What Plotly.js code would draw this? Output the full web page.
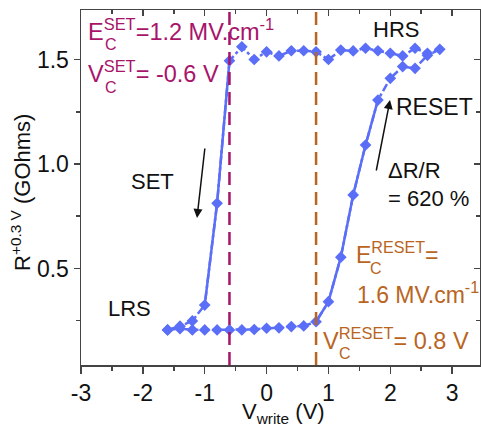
<!DOCTYPE html>
<html>
<head>
<meta charset="utf-8">
<script src="https://cdn.plot.ly/plotly-3.0.1.min.js"></script>
<style>
html,body{margin:0;padding:0;background:#fff;}
#chart{width:481px;height:434px;}
</style>
</head>
<body>
<div id="chart"></div>
<script>
// ---- data ----
const vLRS   = [-1.6,-1.4,-1.2,-1.0,-0.8,-0.6,-0.4,-0.2,0,0.2,0.4,0.6,0.8];
const rLRS   = [0.206,0.212,0.206,0.206,0.206,0.206,0.206,0.208,0.214,0.216,0.222,0.225,0.245];
const vRESET = [1.0,1.2,1.4,1.6,1.8,2.0,2.2,2.4,2.6,2.8];
const rRESET = [0.341,0.554,0.852,1.091,1.306,1.410,1.466,1.458,1.520,1.549];
const vHRS   = [2.6,2.4,2.2,2.0,1.8,1.6,1.4,1.2,1.0,0.8,0.6,0.4,0.2,0,-0.2,-0.4,-0.6];
const rHRS   = [1.530,1.554,1.517,1.530,1.542,1.554,1.541,1.545,1.500,1.537,1.542,1.542,1.517,1.537,1.500,1.561,1.494];
const vSET   = [-0.8,-1.0,-1.2,-1.4,-1.6];
const rSET   = [0.812,0.325,0.249,0.224,0.206];
const vcSet = -0.6, vcReset = 0.8;
const xTicks = [-3,-2,-1,0,1,2,3];
const xTickText = ['-3','-2','-1','0','1','2','3'];
const yTicks = [0.5,1.0,1.5];
const yTickText = ['0.5','1.0','1.5'];

const BLUE = '#5b6ef7', MAG = '#a8146a', ORA = '#b9651f', AX = '#444';
const FONT = 'Liberation Sans, Arial, sans-serif';

const xs = vLRS.concat(vRESET, vHRS, vSET);
const ys = rLRS.concat(rRESET, rHRS, rSET);

const traces = [
  {x: xs, y: ys, mode: 'lines+markers', type: 'scatter',
   line: {color: BLUE, width: 2.5, dash: '8px,3px,3px,3px'},
   marker: {symbol: 'diamond', size: 9, color: BLUE}, hoverinfo: 'none'},
  // steep SET branch drawn solid
  {x: [vHRS[vHRS.length-1]].concat(vSET.slice(0,2)),
   y: [rHRS[rHRS.length-1]].concat(rSET.slice(0,2)),
   mode: 'lines', line: {color: BLUE, width: 2.5}, hoverinfo: 'none'},
  // steep RESET branch drawn solid
  {x: [vLRS[vLRS.length-1]].concat(vRESET.slice(0,5)),
   y: [rLRS[rLRS.length-1]].concat(rRESET.slice(0,5)),
   mode: 'lines', line: {color: BLUE, width: 2.5}, hoverinfo: 'none'},
  {x: [0], y: [1], xaxis: 'x2', yaxis: 'y2', mode: 'markers', marker: {opacity: 0}, hoverinfo: 'none'}
];

// pixel -> paper helper for text placement
const L = 81, T = 10, W = 399, H = 355;
function P(px, py){ return {x: (px - L)/W, y: (T + H - py)/H}; }
function txt(text, px, py, color, size, anchor){
  const p = P(px, py);
  return {text: text, x: p.x, y: p.y, xref: 'paper', yref: 'paper',
          xanchor: anchor || 'left', yanchor: 'middle', showarrow: false,
          font: {family: FONT, size: size || 23, color: color || '#111'}};
}
function arrow(hx, hy, tx, ty){
  const p = P(hx, hy);
  return {text: '', x: p.x, y: p.y, xref: 'paper', yref: 'paper',
          ax: tx - hx, ay: ty - hy, showarrow: true, arrowhead: 2,
          arrowsize: 1.2, arrowwidth: 1.5, arrowcolor: '#111'};
}

const yTitle = txt('R<sup>+0.3 V</sup> (GOhms)', 21, 193, '#111', 22, 'center');
yTitle.textangle = -90;

const annotations = [
  txt('E<sup>SET</sup>=1.2 MV.cm<sup>-1</sup>', 86, 30, MAG, 23.5),
  txt('C', 103, 45, MAG, 16),
  txt('V<sup>SET</sup>= -0.6 V', 86, 72, MAG, 23.5),
  txt('C', 103, 87, MAG, 16),
  txt('HRS', 396, 29, '#111', 22, 'center'),
  txt('RESET', 394, 107),
  txt('\u0394R/R', 386, 171, '#111', 22),
  txt('= 620 %', 386, 199, '#111', 22),
  txt('SET', 152, 181, '#111', 22, 'center'),
  txt('LRS', 106, 308, '#111', 22),
  txt('E<sup>RESET</sup>=', 354, 253, ORA),
  txt('C', 368, 268, ORA, 16),
  txt('1.6 MV.cm<sup>-1</sup>', 355, 293, ORA),
  txt('V<sup>RESET</sup>= 0.8 V', 321, 339, ORA, 23.5),
  txt('C', 337, 353, ORA, 16),
  txt('V<sub>write</sub> (V)', 283, 413, '#111', 22, 'center'),
  yTitle,
  arrow(197, 218, 205, 147),
  arrow(390, 100, 376, 172)
];

const shapes = [vcSet, vcReset].map((v, i) => ({
  type: 'line', xref: 'x', yref: 'paper', x0: v, x1: v, y0: 0, y1: 1,
  line: {color: i === 0 ? MAG : ORA, width: 2.5, dash: '13px,7px'}
}));

const common = {showgrid: false, zeroline: false, showline: true, linecolor: AX,
                linewidth: 1.5, tickcolor: AX, tickwidth: 1.5};
const layout = {
  width: 481, height: 434,
  margin: {l: L, r: 481 - L - W, t: T, b: 434 - T - H},
  paper_bgcolor: '#fff', plot_bgcolor: '#fff',
  showlegend: false,
  font: {family: FONT, size: 23, color: '#111'},
  xaxis: Object.assign({}, common, {
    range: [-3, 3.45], tickvals: xTicks, ticktext: xTickText, ticks: 'outside', ticklen: 7,
    minor: {dtick: 0.5, tick0: -3, ticks: 'outside', ticklen: 4, tickcolor: AX, tickwidth: 1.5},
    mirror: true, tickfont: {family: FONT, size: 23}
  }),
  yaxis: Object.assign({}, common, {
    range: [0.038, 1.737], tickvals: yTicks, ticktext: yTickText, ticks: 'outside', ticklen: 6,
    minor: {dtick: 0.25, tick0: 0, ticks: 'outside', ticklen: 4, tickcolor: AX, tickwidth: 1.5},
    mirror: true, tickfont: {family: FONT, size: 23}
  }),
  xaxis2: Object.assign({}, common, {
    overlaying: 'x', side: 'top', matches: 'x', range: [-3, 3.45], tickvals: xTicks,
    ticks: 'inside', ticklen: 6, showticklabels: false,
    minor: {dtick: 0.5, tick0: -3, ticks: 'inside', ticklen: 4, tickcolor: AX, tickwidth: 1.5}
  }),
  yaxis2: Object.assign({}, common, {
    overlaying: 'y', side: 'right', matches: 'y', range: [0.038, 1.737], tickvals: yTicks,
    ticks: 'inside', ticklen: 6, showticklabels: false,
    minor: {dtick: 0.25, tick0: 0, ticks: 'inside', ticklen: 4, tickcolor: AX, tickwidth: 1.5}
  }),
  annotations: annotations,
  shapes: shapes
};

Plotly.newPlot('chart', traces, layout, {staticPlot: true, displayModeBar: false});
</script>
</body>
</html>
